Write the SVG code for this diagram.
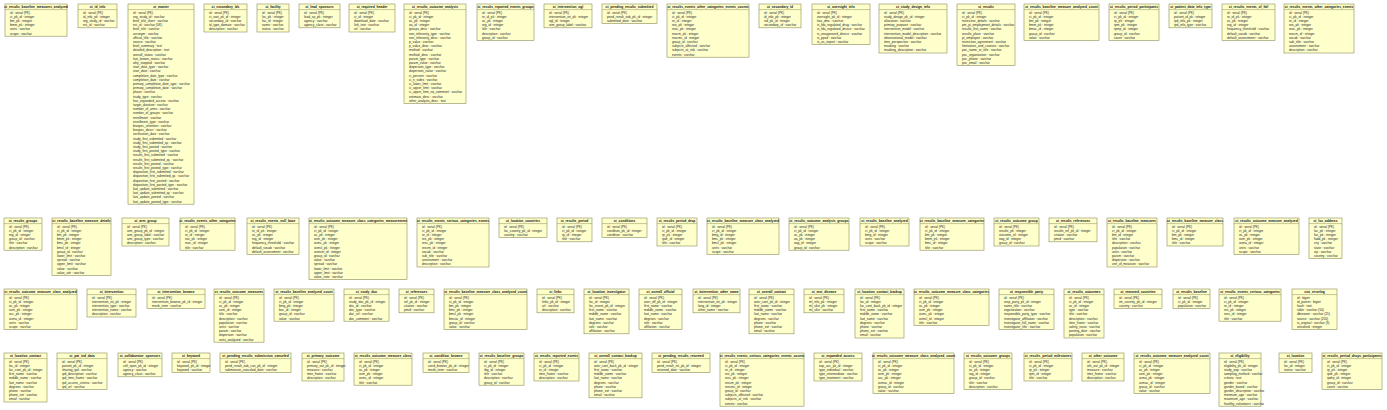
<svg xmlns="http://www.w3.org/2000/svg" width="1387" height="410" viewBox="0 0 1387 410">
<style>
.b{fill:#FFFFCC;stroke:#8C8C5A;stroke-width:0.6}
.s{stroke:#8C8C5A;stroke-width:0.5}
.h{font-family:"Liberation Sans",Arial,sans-serif;font-size:3.3px;font-weight:bold;text-anchor:middle;fill:#111}
.f{font-family:"Liberation Sans",Arial,sans-serif;font-size:3.2px;fill:#222}
</style>
<rect width="1387" height="410" fill="#FFFFFF"/>
<g id="connectors"></g>

<g id="ct_results_baseline_measures_analyzed" transform="translate(5,4)"><rect class="b" width="62" height="32.2"/><text class="h" x="31" y="4.2">ct_results_baseline_measures_analyzed</text><line class="s" x1="0" y1="5.6" x2="62" y2="5.6"/><text class="f" y="5.4"><tspan x="5" dy="4.2">id : serial (PK)</tspan><tspan x="5" dy="4.2">ct_pk_id : integer</tspan><tspan x="5" dy="4.2">bm_pk : integer</tspan><tspan x="5" dy="4.2">bmm_pk : integer</tspan><tspan x="5" dy="4.2">units : varchar</tspan><tspan x="5" dy="4.2">scope : varchar</tspan></text></g>

<g id="ct_id_info" transform="translate(78,4)"><rect class="b" width="39" height="23.8"/><text class="h" x="19.5" y="4.2">ct_id_info</text><line class="s" x1="0" y1="5.6" x2="39" y2="5.6"/><text class="f" y="5.4"><tspan x="5" dy="4.2">id : serial (PK)</tspan><tspan x="5" dy="4.2">id_info_pk : integer</tspan><tspan x="5" dy="4.2">org_study_id : varchar</tspan><tspan x="5" dy="4.2">nct_id : varchar</tspan></text></g>

<g id="ct_master" transform="translate(128,4)"><rect class="b" width="66" height="200.2"/><text class="h" x="33" y="4.2">ct_master</text><line class="s" x1="0" y1="5.6" x2="66" y2="5.6"/><text class="f" y="5.4"><tspan x="5" dy="4.2">id : serial (PK)</tspan><tspan x="5" dy="4.2">org_study_id : varchar</tspan><tspan x="5" dy="4.2">brief_title_short : varchar</tspan><tspan x="5" dy="4.2">nct_id : varchar (UK)</tspan><tspan x="5" dy="4.2">brief_title : varchar</tspan><tspan x="5" dy="4.2">acronym : varchar</tspan><tspan x="5" dy="4.2">official_title : varchar</tspan><tspan x="5" dy="4.2">source : varchar</tspan><tspan x="5" dy="4.2">brief_summary : text</tspan><tspan x="5" dy="4.2">detailed_description : text</tspan><tspan x="5" dy="4.2">overall_status : varchar</tspan><tspan x="5" dy="4.2">last_known_status : varchar</tspan><tspan x="5" dy="4.2">why_stopped : varchar</tspan><tspan x="5" dy="4.2">start_date_type : varchar</tspan><tspan x="5" dy="4.2">start_date : varchar</tspan><tspan x="5" dy="4.2">completion_date_type : varchar</tspan><tspan x="5" dy="4.2">completion_date : varchar</tspan><tspan x="5" dy="4.2">primary_completion_date_type : varchar</tspan><tspan x="5" dy="4.2">primary_completion_date : varchar</tspan><tspan x="5" dy="4.2">phase : varchar</tspan><tspan x="5" dy="4.2">study_type : varchar</tspan><tspan x="5" dy="4.2">has_expanded_access : varchar</tspan><tspan x="5" dy="4.2">target_duration : varchar</tspan><tspan x="5" dy="4.2">number_of_arms : varchar</tspan><tspan x="5" dy="4.2">number_of_groups : varchar</tspan><tspan x="5" dy="4.2">enrollment : varchar</tspan><tspan x="5" dy="4.2">enrollment_type : varchar</tspan><tspan x="5" dy="4.2">biospec_retention : varchar</tspan><tspan x="5" dy="4.2">biospec_descr : varchar</tspan><tspan x="5" dy="4.2">verification_date : varchar</tspan><tspan x="5" dy="4.2">study_first_submitted : varchar</tspan><tspan x="5" dy="4.2">study_first_submitted_qc : varchar</tspan><tspan x="5" dy="4.2">study_first_posted : varchar</tspan><tspan x="5" dy="4.2">study_first_posted_type : varchar</tspan><tspan x="5" dy="4.2">results_first_submitted : varchar</tspan><tspan x="5" dy="4.2">results_first_submitted_qc : varchar</tspan><tspan x="5" dy="4.2">results_first_posted : varchar</tspan><tspan x="5" dy="4.2">results_first_posted_type : varchar</tspan><tspan x="5" dy="4.2">disposition_first_submitted : varchar</tspan><tspan x="5" dy="4.2">disposition_first_submitted_qc : varchar</tspan><tspan x="5" dy="4.2">disposition_first_posted : varchar</tspan><tspan x="5" dy="4.2">disposition_first_posted_type : varchar</tspan><tspan x="5" dy="4.2">last_update_submitted : varchar</tspan><tspan x="5" dy="4.2">last_update_submitted_qc : varchar</tspan><tspan x="5" dy="4.2">last_update_posted : varchar</tspan><tspan x="5" dy="4.2">last_update_posted_type : varchar</tspan></text></g>

<g id="ct_secondary_ids" transform="translate(204,4)"><rect class="b" width="43" height="28"/><text class="h" x="21.5" y="4.2">ct_secondary_ids</text><line class="s" x1="0" y1="5.6" x2="43" y2="5.6"/><text class="f" y="5.4"><tspan x="5" dy="4.2">id : serial (PK)</tspan><tspan x="5" dy="4.2">ct_root_pk_id : integer</tspan><tspan x="5" dy="4.2">secondary_id : varchar</tspan><tspan x="5" dy="4.2">id_type_domain : varchar</tspan><tspan x="5" dy="4.2">description : varchar</tspan></text></g>

<g id="ct_facility" transform="translate(257,4)"><rect class="b" width="32" height="28"/><text class="h" x="16" y="4.2">ct_facility</text><line class="s" x1="0" y1="5.6" x2="32" y2="5.6"/><text class="f" y="5.4"><tspan x="5" dy="4.2">id : serial (PK)</tspan><tspan x="5" dy="4.2">loc_pk : integer</tspan><tspan x="5" dy="4.2">fac_id : integer</tspan><tspan x="5" dy="4.2">name : varchar</tspan><tspan x="5" dy="4.2">status : varchar</tspan></text></g>

<g id="ct_lead_sponsors" transform="translate(299,4)"><rect class="b" width="41" height="23.8"/><text class="h" x="20.5" y="4.2">ct_lead_sponsors</text><line class="s" x1="0" y1="5.6" x2="41" y2="5.6"/><text class="f" y="5.4"><tspan x="5" dy="4.2">id : serial (PK)</tspan><tspan x="5" dy="4.2">lead_sp_pk : integer</tspan><tspan x="5" dy="4.2">agency : varchar</tspan><tspan x="5" dy="4.2">agency_class : varchar</tspan></text></g>

<g id="ct_required_header" transform="translate(349,4)"><rect class="b" width="46" height="28"/><text class="h" x="23" y="4.2">ct_required_header</text><line class="s" x1="0" y1="5.6" x2="46" y2="5.6"/><text class="f" y="5.4"><tspan x="5" dy="4.2">id : serial (PK)</tspan><tspan x="5" dy="4.2">ct_id : integer</tspan><tspan x="5" dy="4.2">download_date : varchar</tspan><tspan x="5" dy="4.2">link_text : varchar</tspan><tspan x="5" dy="4.2">url : varchar</tspan></text></g>

<g id="ct_results_outcome_analysis" transform="translate(404,4)"><rect class="b" width="62" height="99.4"/><text class="h" x="31" y="4.2">ct_results_outcome_analysis</text><line class="s" x1="0" y1="5.6" x2="62" y2="5.6"/><text class="f" y="5.4"><tspan x="5" dy="4.2">id : serial (PK)</tspan><tspan x="5" dy="4.2">ct_pk_id : integer</tspan><tspan x="5" dy="4.2">oc_pk : integer</tspan><tspan x="5" dy="4.2">oa_id : integer</tspan><tspan x="5" dy="4.2">groups_desc : varchar</tspan><tspan x="5" dy="4.2">non_inferiority_type : varchar</tspan><tspan x="5" dy="4.2">non_inferiority_desc : varchar</tspan><tspan x="5" dy="4.2">p_value : varchar</tspan><tspan x="5" dy="4.2">p_value_desc : varchar</tspan><tspan x="5" dy="4.2">method : varchar</tspan><tspan x="5" dy="4.2">method_desc : varchar</tspan><tspan x="5" dy="4.2">param_type : varchar</tspan><tspan x="5" dy="4.2">param_value : varchar</tspan><tspan x="5" dy="4.2">dispersion_type : varchar</tspan><tspan x="5" dy="4.2">dispersion_value : varchar</tspan><tspan x="5" dy="4.2">ci_percent : varchar</tspan><tspan x="5" dy="4.2">ci_n_sides : varchar</tspan><tspan x="5" dy="4.2">ci_lower_limit : varchar</tspan><tspan x="5" dy="4.2">ci_upper_limit : varchar</tspan><tspan x="5" dy="4.2">ci_upper_limit_na_comment : varchar</tspan><tspan x="5" dy="4.2">estimate_desc : varchar</tspan><tspan x="5" dy="4.2">other_analysis_desc : text</tspan></text></g>

<g id="ct_results_reported_events_groups" transform="translate(477,4)"><rect class="b" width="57" height="36.4"/><text class="h" x="28.5" y="4.2">ct_results_reported_events_groups</text><line class="s" x1="0" y1="5.6" x2="57" y2="5.6"/><text class="f" y="5.4"><tspan x="5" dy="4.2">id : serial (PK)</tspan><tspan x="5" dy="4.2">re_id_pk : integer</tspan><tspan x="5" dy="4.2">oc_pk : integer</tspan><tspan x="5" dy="4.2">reg_id : integer</tspan><tspan x="5" dy="4.2">title : varchar</tspan><tspan x="5" dy="4.2">description : varchar</tspan><tspan x="5" dy="4.2">group_id : varchar</tspan></text></g>

<g id="ct_intervention_ogl" transform="translate(544,4)"><rect class="b" width="48" height="23.8"/><text class="h" x="24" y="4.2">ct_intervention_ogl</text><line class="s" x1="0" y1="5.6" x2="48" y2="5.6"/><text class="f" y="5.4"><tspan x="5" dy="4.2">id : serial (PK)</tspan><tspan x="5" dy="4.2">intervention_int_pk : integer</tspan><tspan x="5" dy="4.2">ogl_id : integer</tspan><tspan x="5" dy="4.2">arm_group_label : varchar</tspan></text></g>

<g id="ct_pending_results_submitted" transform="translate(602,4)"><rect class="b" width="55" height="19.6"/><text class="h" x="27.5" y="4.2">ct_pending_results_submitted</text><line class="s" x1="0" y1="5.6" x2="55" y2="5.6"/><text class="f" y="5.4"><tspan x="5" dy="4.2">id : serial (PK)</tspan><tspan x="5" dy="4.2">pend_result_sub_pk_id : integer</tspan><tspan x="5" dy="4.2">submitted_date : varchar</tspan></text></g>

<g id="ct_results_events_other_categories_events_counts" transform="translate(667,4)"><rect class="b" width="82" height="53.2"/><text class="h" x="41" y="4.2">ct_results_events_other_categories_events_counts</text><line class="s" x1="0" y1="5.6" x2="82" y2="5.6"/><text class="f" y="5.4"><tspan x="5" dy="4.2">id : serial (PK)</tspan><tspan x="5" dy="4.2">ct_pk_id : integer</tspan><tspan x="5" dy="4.2">re_id : integer</tspan><tspan x="5" dy="4.2">reo_pk : integer</tspan><tspan x="5" dy="4.2">reoc_pk : integer</tspan><tspan x="5" dy="4.2">reocm_pk : integer</tspan><tspan x="5" dy="4.2">reocmc_id : integer</tspan><tspan x="5" dy="4.2">group_id : varchar</tspan><tspan x="5" dy="4.2">subjects_affected : varchar</tspan><tspan x="5" dy="4.2">subjects_at_risk : varchar</tspan><tspan x="5" dy="4.2">events : varchar</tspan></text></g>

<g id="ct_secondary_id" transform="translate(759,4)"><rect class="b" width="42" height="23.8"/><text class="h" x="21" y="4.2">ct_secondary_id</text><line class="s" x1="0" y1="5.6" x2="42" y2="5.6"/><text class="f" y="5.4"><tspan x="5" dy="4.2">id : serial (PK)</tspan><tspan x="5" dy="4.2">id_info_pk : integer</tspan><tspan x="5" dy="4.2">sid_pk_id : integer</tspan><tspan x="5" dy="4.2">secondary_id : varchar</tspan></text></g>

<g id="ct_oversight_info" transform="translate(812,4)"><rect class="b" width="58" height="40.6"/><text class="h" x="29" y="4.2">ct_oversight_info</text><line class="s" x1="0" y1="5.6" x2="58" y2="5.6"/><text class="f" y="5.4"><tspan x="5" dy="4.2">id : serial (PK)</tspan><tspan x="5" dy="4.2">oversight_pk_id : integer</tspan><tspan x="5" dy="4.2">has_dmc : varchar</tspan><tspan x="5" dy="4.2">is_fda_regulated_drug : varchar</tspan><tspan x="5" dy="4.2">is_fda_regulated_device : varchar</tspan><tspan x="5" dy="4.2">is_unapproved_device : varchar</tspan><tspan x="5" dy="4.2">is_ppsd : varchar</tspan><tspan x="5" dy="4.2">is_us_export : varchar</tspan></text></g>

<g id="ct_study_design_info" transform="translate(879,4)"><rect class="b" width="68" height="49"/><text class="h" x="34" y="4.2">ct_study_design_info</text><line class="s" x1="0" y1="5.6" x2="68" y2="5.6"/><text class="f" y="5.4"><tspan x="5" dy="4.2">id : serial (PK)</tspan><tspan x="5" dy="4.2">study_design_pk_id : integer</tspan><tspan x="5" dy="4.2">allocation : varchar</tspan><tspan x="5" dy="4.2">primary_purpose : varchar</tspan><tspan x="5" dy="4.2">intervention_model : varchar</tspan><tspan x="5" dy="4.2">intervention_model_description : varchar</tspan><tspan x="5" dy="4.2">observational_model : varchar</tspan><tspan x="5" dy="4.2">time_perspective : varchar</tspan><tspan x="5" dy="4.2">masking : varchar</tspan><tspan x="5" dy="4.2">masking_description : varchar</tspan></text></g>

<g id="ct_results" transform="translate(957,4)"><rect class="b" width="58" height="61.6"/><text class="h" x="29" y="4.2">ct_results</text><line class="s" x1="0" y1="5.6" x2="58" y2="5.6"/><text class="f" y="5.4"><tspan x="5" dy="4.2">id : serial (PK)</tspan><tspan x="5" dy="4.2">ct_pk_id : integer</tspan><tspan x="5" dy="4.2">restrictive_details : varchar</tspan><tspan x="5" dy="4.2">pm_pi_employment_details : varchar</tspan><tspan x="5" dy="4.2">results_first_name : varchar</tspan><tspan x="5" dy="4.2">results_place : varchar</tspan><tspan x="5" dy="4.2">pi_employee : varchar</tspan><tspan x="5" dy="4.2">restriction_agreement : varchar</tspan><tspan x="5" dy="4.2">limitations_and_caveats : varchar</tspan><tspan x="5" dy="4.2">poc_name_or_title : varchar</tspan><tspan x="5" dy="4.2">poc_organization : varchar</tspan><tspan x="5" dy="4.2">poc_phone : varchar</tspan><tspan x="5" dy="4.2">poc_email : varchar</tspan></text></g>

<g id="ct_results_baseline_measure_analyzed_count" transform="translate(1024,4)"><rect class="b" width="75" height="36.4"/><text class="h" x="37.5" y="4.2">ct_results_baseline_measure_analyzed_count</text><line class="s" x1="0" y1="5.6" x2="75" y2="5.6"/><text class="f" y="5.4"><tspan x="5" dy="4.2">id : serial (PK)</tspan><tspan x="5" dy="4.2">ct_pk_id : integer</tspan><tspan x="5" dy="4.2">bm_pk : integer</tspan><tspan x="5" dy="4.2">bmm_pk : integer</tspan><tspan x="5" dy="4.2">bmac_id : integer</tspan><tspan x="5" dy="4.2">group_id : varchar</tspan><tspan x="5" dy="4.2">value : varchar</tspan></text></g>

<g id="ct_results_period_participants" transform="translate(1109,4)"><rect class="b" width="50" height="36.4"/><text class="h" x="25" y="4.2">ct_results_period_participants</text><line class="s" x1="0" y1="5.6" x2="50" y2="5.6"/><text class="f" y="5.4"><tspan x="5" dy="4.2">id : serial (PK)</tspan><tspan x="5" dy="4.2">ct_pk_id : integer</tspan><tspan x="5" dy="4.2">rp_pk : integer</tspan><tspan x="5" dy="4.2">rpm_pk : integer</tspan><tspan x="5" dy="4.2">rpmp_id : integer</tspan><tspan x="5" dy="4.2">group_id : varchar</tspan><tspan x="5" dy="4.2">count : varchar</tspan></text></g>

<g id="ct_patient_data_info_type" transform="translate(1169,4)"><rect class="b" width="43" height="23.8"/><text class="h" x="21.5" y="4.2">ct_patient_data_info_type</text><line class="s" x1="0" y1="5.6" x2="43" y2="5.6"/><text class="f" y="5.4"><tspan x="5" dy="4.2">id : serial (PK)</tspan><tspan x="5" dy="4.2">patient_id_pk : integer</tspan><tspan x="5" dy="4.2">ipd_info_pk : integer</tspan><tspan x="5" dy="4.2">ipd_info_type : varchar</tspan></text></g>

<g id="ct_results_events_of_fail" transform="translate(1222,4)"><rect class="b" width="53" height="36.4"/><text class="h" x="26.5" y="4.2">ct_results_events_of_fail</text><line class="s" x1="0" y1="5.6" x2="53" y2="5.6"/><text class="f" y="5.4"><tspan x="5" dy="4.2">id : serial (PK)</tspan><tspan x="5" dy="4.2">re_id_pk : integer</tspan><tspan x="5" dy="4.2">oc_pk : integer</tspan><tspan x="5" dy="4.2">reg_id : integer</tspan><tspan x="5" dy="4.2">frequency_threshold : varchar</tspan><tspan x="5" dy="4.2">default_vocab : varchar</tspan><tspan x="5" dy="4.2">default_assessment : varchar</tspan></text></g>

<g id="ct_results_events_other_categories_events" transform="translate(1284,4)"><rect class="b" width="70" height="49"/><text class="h" x="35" y="4.2">ct_results_events_other_categories_events</text><line class="s" x1="0" y1="5.6" x2="70" y2="5.6"/><text class="f" y="5.4"><tspan x="5" dy="4.2">id : serial (PK)</tspan><tspan x="5" dy="4.2">ct_pk_id : integer</tspan><tspan x="5" dy="4.2">re_id : integer</tspan><tspan x="5" dy="4.2">reo_pk : integer</tspan><tspan x="5" dy="4.2">reoc_pk : integer</tspan><tspan x="5" dy="4.2">reocm_id : integer</tspan><tspan x="5" dy="4.2">vocab : varchar</tspan><tspan x="5" dy="4.2">sub_title : varchar</tspan><tspan x="5" dy="4.2">assessment : varchar</tspan><tspan x="5" dy="4.2">description : varchar</tspan></text></g>

<g id="ct_results_groups" transform="translate(4,218)"><rect class="b" width="38" height="32.2"/><text class="h" x="19" y="4.2">ct_results_groups</text><line class="s" x1="0" y1="5.6" x2="38" y2="5.6"/><text class="f" y="5.4"><tspan x="5" dy="4.2">id : serial (PK)</tspan><tspan x="5" dy="4.2">ct_pk_id : integer</tspan><tspan x="5" dy="4.2">reg_id : integer</tspan><tspan x="5" dy="4.2">group_id : varchar</tspan><tspan x="5" dy="4.2">title : varchar</tspan><tspan x="5" dy="4.2">description : varchar</tspan></text></g>

<g id="ct_results_baseline_measure_details" transform="translate(52,218)"><rect class="b" width="59" height="57.4"/><text class="h" x="29.5" y="4.2">ct_results_baseline_measure_details</text><line class="s" x1="0" y1="5.6" x2="59" y2="5.6"/><text class="f" y="5.4"><tspan x="5" dy="4.2">id : serial (PK)</tspan><tspan x="5" dy="4.2">ct_pk_id : integer</tspan><tspan x="5" dy="4.2">bm_pk : integer</tspan><tspan x="5" dy="4.2">bmm_pk : integer</tspan><tspan x="5" dy="4.2">bmc_pk : integer</tspan><tspan x="5" dy="4.2">bmcl_id : integer</tspan><tspan x="5" dy="4.2">group_id : varchar</tspan><tspan x="5" dy="4.2">lower_limit : varchar</tspan><tspan x="5" dy="4.2">spread : varchar</tspan><tspan x="5" dy="4.2">upper_limit : varchar</tspan><tspan x="5" dy="4.2">value : varchar</tspan><tspan x="5" dy="4.2">value_attr : varchar</tspan></text></g>

<g id="ct_arm_group" transform="translate(122,218)"><rect class="b" width="47" height="28"/><text class="h" x="23.5" y="4.2">ct_arm_group</text><line class="s" x1="0" y1="5.6" x2="47" y2="5.6"/><text class="f" y="5.4"><tspan x="5" dy="4.2">id : serial (PK)</tspan><tspan x="5" dy="4.2">arm_group_pk_id : integer</tspan><tspan x="5" dy="4.2">arm_group_label : varchar</tspan><tspan x="5" dy="4.2">arm_group_type : varchar</tspan><tspan x="5" dy="4.2">description : varchar</tspan></text></g>

<g id="ct_results_events_other_categories" transform="translate(180,218)"><rect class="b" width="55" height="32.2"/><text class="h" x="27.5" y="4.2">ct_results_events_other_categories</text><line class="s" x1="0" y1="5.6" x2="55" y2="5.6"/><text class="f" y="5.4"><tspan x="5" dy="4.2">id : serial (PK)</tspan><tspan x="5" dy="4.2">ct_pk_id : integer</tspan><tspan x="5" dy="4.2">re_id : integer</tspan><tspan x="5" dy="4.2">reo_pk : integer</tspan><tspan x="5" dy="4.2">reoc_id : integer</tspan><tspan x="5" dy="4.2">title : varchar</tspan></text></g>

<g id="ct_results_events_null_base" transform="translate(247,218)"><rect class="b" width="52" height="36.4"/><text class="h" x="26" y="4.2">ct_results_events_null_base</text><line class="s" x1="0" y1="5.6" x2="52" y2="5.6"/><text class="f" y="5.4"><tspan x="5" dy="4.2">id : serial (PK)</tspan><tspan x="5" dy="4.2">re_id_pk : integer</tspan><tspan x="5" dy="4.2">oc_pk : integer</tspan><tspan x="5" dy="4.2">reg_id : integer</tspan><tspan x="5" dy="4.2">frequency_threshold : varchar</tspan><tspan x="5" dy="4.2">default_vocab : varchar</tspan><tspan x="5" dy="4.2">default_assessment : varchar</tspan></text></g>

<g id="ct_results_outcome_measure_class_categories_measurement" transform="translate(309,218)"><rect class="b" width="98" height="61.6"/><text class="h" x="49" y="4.2">ct_results_outcome_measure_class_categories_measurement</text><line class="s" x1="0" y1="5.6" x2="98" y2="5.6"/><text class="f" y="5.4"><tspan x="5" dy="4.2">id : serial (PK)</tspan><tspan x="5" dy="4.2">ct_pk_id : integer</tspan><tspan x="5" dy="4.2">oc_pk : integer</tspan><tspan x="5" dy="4.2">ocm_pk : integer</tspan><tspan x="5" dy="4.2">ocmc_pk : integer</tspan><tspan x="5" dy="4.2">ocmcl_pk : integer</tspan><tspan x="5" dy="4.2">ocmcm_id : integer</tspan><tspan x="5" dy="4.2">group_id : varchar</tspan><tspan x="5" dy="4.2">value : varchar</tspan><tspan x="5" dy="4.2">spread : varchar</tspan><tspan x="5" dy="4.2">lower_limit : varchar</tspan><tspan x="5" dy="4.2">upper_limit : varchar</tspan><tspan x="5" dy="4.2">value_note : varchar</tspan></text></g>

<g id="ct_results_events_serious_categories_events" transform="translate(417,218)"><rect class="b" width="72" height="49"/><text class="h" x="36" y="4.2">ct_results_events_serious_categories_events</text><line class="s" x1="0" y1="5.6" x2="72" y2="5.6"/><text class="f" y="5.4"><tspan x="5" dy="4.2">id : serial (PK)</tspan><tspan x="5" dy="4.2">ct_pk_id : integer</tspan><tspan x="5" dy="4.2">re_id : integer</tspan><tspan x="5" dy="4.2">res_pk : integer</tspan><tspan x="5" dy="4.2">resc_pk : integer</tspan><tspan x="5" dy="4.2">rescm_id : integer</tspan><tspan x="5" dy="4.2">vocab : varchar</tspan><tspan x="5" dy="4.2">sub_title : varchar</tspan><tspan x="5" dy="4.2">assessment : varchar</tspan><tspan x="5" dy="4.2">description : varchar</tspan></text></g>

<g id="ct_location_countries" transform="translate(499,218)"><rect class="b" width="48" height="19.6"/><text class="h" x="24" y="4.2">ct_location_countries</text><line class="s" x1="0" y1="5.6" x2="48" y2="5.6"/><text class="f" y="5.4"><tspan x="5" dy="4.2">id : serial (PK)</tspan><tspan x="5" dy="4.2">loc_country_pk_id : integer</tspan><tspan x="5" dy="4.2">country : varchar</tspan></text></g>

<g id="ct_results_period" transform="translate(557,218)"><rect class="b" width="35" height="23.8"/><text class="h" x="17.5" y="4.2">ct_results_period</text><line class="s" x1="0" y1="5.6" x2="35" y2="5.6"/><text class="f" y="5.4"><tspan x="5" dy="4.2">id : serial (PK)</tspan><tspan x="5" dy="4.2">ct_pk_id : integer</tspan><tspan x="5" dy="4.2">rp_id : integer</tspan><tspan x="5" dy="4.2">title : varchar</tspan></text></g>

<g id="ct_conditions" transform="translate(602,218)"><rect class="b" width="45" height="19.6"/><text class="h" x="22.5" y="4.2">ct_conditions</text><line class="s" x1="0" y1="5.6" x2="45" y2="5.6"/><text class="f" y="5.4"><tspan x="5" dy="4.2">id : serial (PK)</tspan><tspan x="5" dy="4.2">condition_pk_id : integer</tspan><tspan x="5" dy="4.2">condition : varchar</tspan></text></g>

<g id="ct_results_period_drop" transform="translate(657,218)"><rect class="b" width="40" height="28"/><text class="h" x="20" y="4.2">ct_results_period_drop</text><line class="s" x1="0" y1="5.6" x2="40" y2="5.6"/><text class="f" y="5.4"><tspan x="5" dy="4.2">id : serial (PK)</tspan><tspan x="5" dy="4.2">ct_pk_id : integer</tspan><tspan x="5" dy="4.2">rp_pk : integer</tspan><tspan x="5" dy="4.2">rpdr_id : integer</tspan><tspan x="5" dy="4.2">title : varchar</tspan></text></g>

<g id="ct_results_baseline_measure_class_analyzed" transform="translate(707,218)"><rect class="b" width="72" height="36.4"/><text class="h" x="36" y="4.2">ct_results_baseline_measure_class_analyzed</text><line class="s" x1="0" y1="5.6" x2="72" y2="5.6"/><text class="f" y="5.4"><tspan x="5" dy="4.2">id : serial (PK)</tspan><tspan x="5" dy="4.2">ct_pk_id : integer</tspan><tspan x="5" dy="4.2">bmg_id : integer</tspan><tspan x="5" dy="4.2">bmc_pk : integer</tspan><tspan x="5" dy="4.2">bmcl_pk : integer</tspan><tspan x="5" dy="4.2">units : varchar</tspan><tspan x="5" dy="4.2">scope : varchar</tspan></text></g>

<g id="ct_results_outcome_analysis_groups" transform="translate(789,218)"><rect class="b" width="60" height="32.2"/><text class="h" x="30" y="4.2">ct_results_outcome_analysis_groups</text><line class="s" x1="0" y1="5.6" x2="60" y2="5.6"/><text class="f" y="5.4"><tspan x="5" dy="4.2">id : serial (PK)</tspan><tspan x="5" dy="4.2">ct_pk_id : integer</tspan><tspan x="5" dy="4.2">oc_pk : integer</tspan><tspan x="5" dy="4.2">oa_pk : integer</tspan><tspan x="5" dy="4.2">oag_id : integer</tspan><tspan x="5" dy="4.2">group_id : varchar</tspan></text></g>

<g id="ct_results_baseline_analyzed" transform="translate(860,218)"><rect class="b" width="49" height="28"/><text class="h" x="24.5" y="4.2">ct_results_baseline_analyzed</text><line class="s" x1="0" y1="5.6" x2="49" y2="5.6"/><text class="f" y="5.4"><tspan x="5" dy="4.2">id : serial (PK)</tspan><tspan x="5" dy="4.2">ct_pk_id : integer</tspan><tspan x="5" dy="4.2">bmg_id : integer</tspan><tspan x="5" dy="4.2">units : varchar</tspan><tspan x="5" dy="4.2">scope : varchar</tspan></text></g>

<g id="ct_results_baseline_measure_categories" transform="translate(920,218)"><rect class="b" width="64" height="32.2"/><text class="h" x="32" y="4.2">ct_results_baseline_measure_categories</text><line class="s" x1="0" y1="5.6" x2="64" y2="5.6"/><text class="f" y="5.4"><tspan x="5" dy="4.2">id : serial (PK)</tspan><tspan x="5" dy="4.2">ct_pk_id : integer</tspan><tspan x="5" dy="4.2">bm_pk : integer</tspan><tspan x="5" dy="4.2">bmm_pk : integer</tspan><tspan x="5" dy="4.2">bmc_id : integer</tspan><tspan x="5" dy="4.2">title : varchar</tspan></text></g>

<g id="ct_results_outcome_group" transform="translate(994,218)"><rect class="b" width="45" height="28"/><text class="h" x="22.5" y="4.2">ct_results_outcome_group</text><line class="s" x1="0" y1="5.6" x2="45" y2="5.6"/><text class="f" y="5.4"><tspan x="5" dy="4.2">id : serial (PK)</tspan><tspan x="5" dy="4.2">results_pk : integer</tspan><tspan x="5" dy="4.2">outcome_id : integer</tspan><tspan x="5" dy="4.2">oog_id : integer</tspan><tspan x="5" dy="4.2">group_id : varchar</tspan></text></g>

<g id="ct_results_references" transform="translate(1049,218)"><rect class="b" width="48" height="23.8"/><text class="h" x="24" y="4.2">ct_results_references</text><line class="s" x1="0" y1="5.6" x2="48" y2="5.6"/><text class="f" y="5.4"><tspan x="5" dy="4.2">id : serial (PK)</tspan><tspan x="5" dy="4.2">results_ref_pk_id : integer</tspan><tspan x="5" dy="4.2">citation : varchar</tspan><tspan x="5" dy="4.2">pmid : varchar</tspan></text></g>

<g id="ct_results_baseline_measures" transform="translate(1107,218)"><rect class="b" width="50" height="49"/><text class="h" x="25" y="4.2">ct_results_baseline_measures</text><line class="s" x1="0" y1="5.6" x2="50" y2="5.6"/><text class="f" y="5.4"><tspan x="5" dy="4.2">id : serial (PK)</tspan><tspan x="5" dy="4.2">ct_pk_id : integer</tspan><tspan x="5" dy="4.2">bm_id : integer</tspan><tspan x="5" dy="4.2">title : varchar</tspan><tspan x="5" dy="4.2">description : varchar</tspan><tspan x="5" dy="4.2">population : varchar</tspan><tspan x="5" dy="4.2">units : varchar</tspan><tspan x="5" dy="4.2">param : varchar</tspan><tspan x="5" dy="4.2">dispersion : varchar</tspan><tspan x="5" dy="4.2">unit_of_measure : varchar</tspan></text></g>

<g id="ct_results_baseline_measure_class" transform="translate(1167,218)"><rect class="b" width="56" height="28"/><text class="h" x="28" y="4.2">ct_results_baseline_measure_class</text><line class="s" x1="0" y1="5.6" x2="56" y2="5.6"/><text class="f" y="5.4"><tspan x="5" dy="4.2">id : serial (PK)</tspan><tspan x="5" dy="4.2">ct_pk_id : integer</tspan><tspan x="5" dy="4.2">bm_pk : integer</tspan><tspan x="5" dy="4.2">bmc_id : integer</tspan><tspan x="5" dy="4.2">title : varchar</tspan></text></g>

<g id="ct_results_outcome_measure_analyzed" transform="translate(1234,218)"><rect class="b" width="65" height="36.4"/><text class="h" x="32.5" y="4.2">ct_results_outcome_measure_analyzed</text><line class="s" x1="0" y1="5.6" x2="65" y2="5.6"/><text class="f" y="5.4"><tspan x="5" dy="4.2">id : serial (PK)</tspan><tspan x="5" dy="4.2">ct_pk_id : integer</tspan><tspan x="5" dy="4.2">oc_pk : integer</tspan><tspan x="5" dy="4.2">ocm_pk : integer</tspan><tspan x="5" dy="4.2">ocma_id : integer</tspan><tspan x="5" dy="4.2">units : varchar</tspan><tspan x="5" dy="4.2">scope : varchar</tspan></text></g>

<g id="ct_loc_address" transform="translate(1309,218)"><rect class="b" width="33" height="40.6"/><text class="h" x="16.5" y="4.2">ct_loc_address</text><line class="s" x1="0" y1="5.6" x2="33" y2="5.6"/><text class="f" y="5.4"><tspan x="5" dy="4.2">id : serial (PK)</tspan><tspan x="5" dy="4.2">loc_pk : integer</tspan><tspan x="5" dy="4.2">fac_pk : integer</tspan><tspan x="5" dy="4.2">fadd_pk : integer</tspan><tspan x="5" dy="4.2">city : varchar</tspan><tspan x="5" dy="4.2">state : varchar</tspan><tspan x="5" dy="4.2">zip : varchar</tspan><tspan x="5" dy="4.2">country : varchar</tspan></text></g>

<g id="ct_results_outcome_measure_class_analyzed" transform="translate(4,289)"><rect class="b" width="73" height="40.6"/><text class="h" x="36.5" y="4.2">ct_results_outcome_measure_class_analyzed</text><line class="s" x1="0" y1="5.6" x2="73" y2="5.6"/><text class="f" y="5.4"><tspan x="5" dy="4.2">id : serial (PK)</tspan><tspan x="5" dy="4.2">ct_pk_id : integer</tspan><tspan x="5" dy="4.2">oc_pk : integer</tspan><tspan x="5" dy="4.2">ocm_pk : integer</tspan><tspan x="5" dy="4.2">occ_pk : integer</tspan><tspan x="5" dy="4.2">ocma_id : integer</tspan><tspan x="5" dy="4.2">units : varchar</tspan><tspan x="5" dy="4.2">scope : varchar</tspan></text></g>

<g id="ct_intervention" transform="translate(87,289)"><rect class="b" width="49" height="28"/><text class="h" x="24.5" y="4.2">ct_intervention</text><line class="s" x1="0" y1="5.6" x2="49" y2="5.6"/><text class="f" y="5.4"><tspan x="5" dy="4.2">id : serial (PK)</tspan><tspan x="5" dy="4.2">intervention_int_pk : integer</tspan><tspan x="5" dy="4.2">intervention_type : varchar</tspan><tspan x="5" dy="4.2">intervention_name : varchar</tspan><tspan x="5" dy="4.2">description : varchar</tspan></text></g>

<g id="ct_intervention_browse" transform="translate(147,289)"><rect class="b" width="58" height="19.6"/><text class="h" x="29" y="4.2">ct_intervention_browse</text><line class="s" x1="0" y1="5.6" x2="58" y2="5.6"/><text class="f" y="5.4"><tspan x="5" dy="4.2">id : serial (PK)</tspan><tspan x="5" dy="4.2">intervention_browse_pk_id : integer</tspan><tspan x="5" dy="4.2">mesh_term : varchar</tspan></text></g>

<g id="ct_results_outcome_measures" transform="translate(214,289)"><rect class="b" width="50" height="53.2"/><text class="h" x="25" y="4.2">ct_results_outcome_measures</text><line class="s" x1="0" y1="5.6" x2="50" y2="5.6"/><text class="f" y="5.4"><tspan x="5" dy="4.2">id : serial (PK)</tspan><tspan x="5" dy="4.2">ct_pk_id : integer</tspan><tspan x="5" dy="4.2">oc_pk : integer</tspan><tspan x="5" dy="4.2">ocm_id : integer</tspan><tspan x="5" dy="4.2">title : varchar</tspan><tspan x="5" dy="4.2">description : varchar</tspan><tspan x="5" dy="4.2">population : varchar</tspan><tspan x="5" dy="4.2">units : varchar</tspan><tspan x="5" dy="4.2">param : varchar</tspan><tspan x="5" dy="4.2">dispersion : varchar</tspan><tspan x="5" dy="4.2">units_analyzed : varchar</tspan></text></g>

<g id="ct_results_baseline_analyzed_count" transform="translate(274,289)"><rect class="b" width="60" height="32.2"/><text class="h" x="30" y="4.2">ct_results_baseline_analyzed_count</text><line class="s" x1="0" y1="5.6" x2="60" y2="5.6"/><text class="f" y="5.4"><tspan x="5" dy="4.2">id : serial (PK)</tspan><tspan x="5" dy="4.2">ct_pk_id : integer</tspan><tspan x="5" dy="4.2">bmg_pk : integer</tspan><tspan x="5" dy="4.2">bac_id : integer</tspan><tspan x="5" dy="4.2">group_id : varchar</tspan><tspan x="5" dy="4.2">value : varchar</tspan></text></g>

<g id="ct_study_doc" transform="translate(344,289)"><rect class="b" width="45" height="32.2"/><text class="h" x="22.5" y="4.2">ct_study_doc</text><line class="s" x1="0" y1="5.6" x2="45" y2="5.6"/><text class="f" y="5.4"><tspan x="5" dy="4.2">id : serial (PK)</tspan><tspan x="5" dy="4.2">study_doc_pk_id : integer</tspan><tspan x="5" dy="4.2">doc_id : varchar</tspan><tspan x="5" dy="4.2">doc_type : varchar</tspan><tspan x="5" dy="4.2">doc_url : varchar</tspan><tspan x="5" dy="4.2">doc_comment : varchar</tspan></text></g>

<g id="ct_references" transform="translate(399,289)"><rect class="b" width="35" height="23.8"/><text class="h" x="17.5" y="4.2">ct_references</text><line class="s" x1="0" y1="5.6" x2="35" y2="5.6"/><text class="f" y="5.4"><tspan x="5" dy="4.2">id : serial (PK)</tspan><tspan x="5" dy="4.2">ref_pk_id : integer</tspan><tspan x="5" dy="4.2">citation : varchar</tspan><tspan x="5" dy="4.2">pmid : varchar</tspan></text></g>

<g id="ct_results_baseline_measure_class_analyzed_count" transform="translate(444,289)"><rect class="b" width="83" height="40.6"/><text class="h" x="41.5" y="4.2">ct_results_baseline_measure_class_analyzed_count</text><line class="s" x1="0" y1="5.6" x2="83" y2="5.6"/><text class="f" y="5.4"><tspan x="5" dy="4.2">id : serial (PK)</tspan><tspan x="5" dy="4.2">ct_pk_id : integer</tspan><tspan x="5" dy="4.2">bm_pk : integer</tspan><tspan x="5" dy="4.2">bmc_pk : integer</tspan><tspan x="5" dy="4.2">bmcl_pk : integer</tspan><tspan x="5" dy="4.2">bmcac_id : integer</tspan><tspan x="5" dy="4.2">group_id : varchar</tspan><tspan x="5" dy="4.2">value : varchar</tspan></text></g>

<g id="ct_links" transform="translate(537,289)"><rect class="b" width="37" height="23.8"/><text class="h" x="18.5" y="4.2">ct_links</text><line class="s" x1="0" y1="5.6" x2="37" y2="5.6"/><text class="f" y="5.4"><tspan x="5" dy="4.2">id : serial (PK)</tspan><tspan x="5" dy="4.2">links_pk_id : integer</tspan><tspan x="5" dy="4.2">url : varchar</tspan><tspan x="5" dy="4.2">description : varchar</tspan></text></g>

<g id="ct_location_investigator" transform="translate(584,289)"><rect class="b" width="45" height="44.8"/><text class="h" x="22.5" y="4.2">ct_location_investigator</text><line class="s" x1="0" y1="5.6" x2="45" y2="5.6"/><text class="f" y="5.4"><tspan x="5" dy="4.2">id : serial (PK)</tspan><tspan x="5" dy="4.2">loc_id : integer</tspan><tspan x="5" dy="4.2">loc_invest_pk_id : integer</tspan><tspan x="5" dy="4.2">first_name : varchar</tspan><tspan x="5" dy="4.2">middle_name : varchar</tspan><tspan x="5" dy="4.2">last_name : varchar</tspan><tspan x="5" dy="4.2">degrees : varchar</tspan><tspan x="5" dy="4.2">role : varchar</tspan><tspan x="5" dy="4.2">affiliation : varchar</tspan></text></g>

<g id="ct_overall_official" transform="translate(639,289)"><rect class="b" width="43" height="40.6"/><text class="h" x="21.5" y="4.2">ct_overall_official</text><line class="s" x1="0" y1="5.6" x2="43" y2="5.6"/><text class="f" y="5.4"><tspan x="5" dy="4.2">id : serial (PK)</tspan><tspan x="5" dy="4.2">over_off_pk_id : integer</tspan><tspan x="5" dy="4.2">first_name : varchar</tspan><tspan x="5" dy="4.2">middle_name : varchar</tspan><tspan x="5" dy="4.2">last_name : varchar</tspan><tspan x="5" dy="4.2">degrees : varchar</tspan><tspan x="5" dy="4.2">role : varchar</tspan><tspan x="5" dy="4.2">affiliation : varchar</tspan></text></g>

<g id="ct_intervention_other_name" transform="translate(693,289)"><rect class="b" width="47" height="23.8"/><text class="h" x="23.5" y="4.2">ct_intervention_other_name</text><line class="s" x1="0" y1="5.6" x2="47" y2="5.6"/><text class="f" y="5.4"><tspan x="5" dy="4.2">id : serial (PK)</tspan><tspan x="5" dy="4.2">intervention_int_pk : integer</tspan><tspan x="5" dy="4.2">long_id : integer</tspan><tspan x="5" dy="4.2">other_name : varchar</tspan></text></g>

<g id="ct_overall_contact" transform="translate(749,289)"><rect class="b" width="45" height="44.8"/><text class="h" x="22.5" y="4.2">ct_overall_contact</text><line class="s" x1="0" y1="5.6" x2="45" y2="5.6"/><text class="f" y="5.4"><tspan x="5" dy="4.2">id : serial (PK)</tspan><tspan x="5" dy="4.2">over_cont_pk_id : integer</tspan><tspan x="5" dy="4.2">first_name : varchar</tspan><tspan x="5" dy="4.2">middle_name : varchar</tspan><tspan x="5" dy="4.2">last_name : varchar</tspan><tspan x="5" dy="4.2">degrees : varchar</tspan><tspan x="5" dy="4.2">phone : varchar</tspan><tspan x="5" dy="4.2">phone_ext : varchar</tspan><tspan x="5" dy="4.2">email : varchar</tspan></text></g>

<g id="ct_mst_disease" transform="translate(804,289)"><rect class="b" width="40" height="23.8"/><text class="h" x="20" y="4.2">ct_mst_disease</text><line class="s" x1="0" y1="5.6" x2="40" y2="5.6"/><text class="f" y="5.4"><tspan x="5" dy="4.2">id : serial (PK)</tspan><tspan x="5" dy="4.2">ml_info_pk : integer</tspan><tspan x="5" dy="4.2">ml_ulist_pk : integer</tspan><tspan x="5" dy="4.2">ml_ulist : varchar</tspan></text></g>

<g id="ct_location_contact_backup" transform="translate(855,289)"><rect class="b" width="49" height="49"/><text class="h" x="24.5" y="4.2">ct_location_contact_backup</text><line class="s" x1="0" y1="5.6" x2="49" y2="5.6"/><text class="f" y="5.4"><tspan x="5" dy="4.2">id : serial (PK)</tspan><tspan x="5" dy="4.2">loc_id : integer</tspan><tspan x="5" dy="4.2">loc_cont_back_pk_id : integer</tspan><tspan x="5" dy="4.2">first_name : varchar</tspan><tspan x="5" dy="4.2">middle_name : varchar</tspan><tspan x="5" dy="4.2">last_name : varchar</tspan><tspan x="5" dy="4.2">degrees : varchar</tspan><tspan x="5" dy="4.2">phone : varchar</tspan><tspan x="5" dy="4.2">phone_ext : varchar</tspan><tspan x="5" dy="4.2">email : varchar</tspan></text></g>

<g id="ct_results_outcome_measure_class_categories" transform="translate(914,289)"><rect class="b" width="75" height="36.4"/><text class="h" x="37.5" y="4.2">ct_results_outcome_measure_class_categories</text><line class="s" x1="0" y1="5.6" x2="75" y2="5.6"/><text class="f" y="5.4"><tspan x="5" dy="4.2">id : serial (PK)</tspan><tspan x="5" dy="4.2">ct_pk_id : integer</tspan><tspan x="5" dy="4.2">oc_pk : integer</tspan><tspan x="5" dy="4.2">ocm_pk : integer</tspan><tspan x="5" dy="4.2">ocmc_pk : integer</tspan><tspan x="5" dy="4.2">ocmcl_id : integer</tspan><tspan x="5" dy="4.2">title : varchar</tspan></text></g>

<g id="ct_responsible_party" transform="translate(999,289)"><rect class="b" width="55" height="40.6"/><text class="h" x="27.5" y="4.2">ct_responsible_party</text><line class="s" x1="0" y1="5.6" x2="55" y2="5.6"/><text class="f" y="5.4"><tspan x="5" dy="4.2">id : serial (PK)</tspan><tspan x="5" dy="4.2">resp_party_pk_id : integer</tspan><tspan x="5" dy="4.2">name_title : varchar</tspan><tspan x="5" dy="4.2">organization : varchar</tspan><tspan x="5" dy="4.2">responsible_party_type : varchar</tspan><tspan x="5" dy="4.2">investigator_affiliation : varchar</tspan><tspan x="5" dy="4.2">investigator_full_name : varchar</tspan><tspan x="5" dy="4.2">investigator_title : varchar</tspan></text></g>

<g id="ct_results_outcomes" transform="translate(1064,289)"><rect class="b" width="40" height="49"/><text class="h" x="20" y="4.2">ct_results_outcomes</text><line class="s" x1="0" y1="5.6" x2="40" y2="5.6"/><text class="f" y="5.4"><tspan x="5" dy="4.2">id : serial (PK)</tspan><tspan x="5" dy="4.2">ct_pk_id : integer</tspan><tspan x="5" dy="4.2">oc_id : integer</tspan><tspan x="5" dy="4.2">type : varchar</tspan><tspan x="5" dy="4.2">title : varchar</tspan><tspan x="5" dy="4.2">description : varchar</tspan><tspan x="5" dy="4.2">time_frame : varchar</tspan><tspan x="5" dy="4.2">safety_issue : varchar</tspan><tspan x="5" dy="4.2">posting_date : varchar</tspan><tspan x="5" dy="4.2">population : varchar</tspan></text></g>

<g id="ct_removed_countries" transform="translate(1114,289)"><rect class="b" width="48" height="19.6"/><text class="h" x="24" y="4.2">ct_removed_countries</text><line class="s" x1="0" y1="5.6" x2="48" y2="5.6"/><text class="f" y="5.4"><tspan x="5" dy="4.2">id : serial (PK)</tspan><tspan x="5" dy="4.2">rm_country_pk_id : integer</tspan><tspan x="5" dy="4.2">country : varchar</tspan></text></g>

<g id="ct_results_baseline" transform="translate(1173,289)"><rect class="b" width="37" height="19.6"/><text class="h" x="18.5" y="4.2">ct_results_baseline</text><line class="s" x1="0" y1="5.6" x2="37" y2="5.6"/><text class="f" y="5.4"><tspan x="5" dy="4.2">id : serial (PK)</tspan><tspan x="5" dy="4.2">ct_pk_id : integer</tspan><tspan x="5" dy="4.2">population : varchar</tspan></text></g>

<g id="ct_results_events_serious_categories" transform="translate(1219,289)"><rect class="b" width="62" height="32.2"/><text class="h" x="31" y="4.2">ct_results_events_serious_categories</text><line class="s" x1="0" y1="5.6" x2="62" y2="5.6"/><text class="f" y="5.4"><tspan x="5" dy="4.2">id : serial (PK)</tspan><tspan x="5" dy="4.2">ct_pk_id : integer</tspan><tspan x="5" dy="4.2">re_id : integer</tspan><tspan x="5" dy="4.2">res_pk : integer</tspan><tspan x="5" dy="4.2">resc_id : integer</tspan><tspan x="5" dy="4.2">title : varchar</tspan></text></g>

<g id="ctct_errorlog" transform="translate(1292,289)"><rect class="b" width="45" height="40.6"/><text class="h" x="22.5" y="4.2">ctct_errorlog</text><line class="s" x1="0" y1="5.6" x2="45" y2="5.6"/><text class="f" y="5.4"><tspan x="5" dy="4.2">id : bigint</tspan><tspan x="5" dy="4.2">id_parent : bigint</tspan><tspan x="5" dy="4.2">hash : text</tspan><tspan x="5" dy="4.2">table : varchar (50)</tspan><tspan x="5" dy="4.2">dbrowser : varchar (25)</tspan><tspan x="5" dy="4.2">source : varchar (250)</tspan><tspan x="5" dy="4.2">is_original : varchar (3)</tspan><tspan x="5" dy="4.2">unsolved : integer</tspan></text></g>

<g id="ct_location_contact" transform="translate(4,353)"><rect class="b" width="43" height="49"/><text class="h" x="21.5" y="4.2">ct_location_contact</text><line class="s" x1="0" y1="5.6" x2="43" y2="5.6"/><text class="f" y="5.4"><tspan x="5" dy="4.2">id : serial (PK)</tspan><tspan x="5" dy="4.2">loc_id : integer</tspan><tspan x="5" dy="4.2">loc_cont_pk_id : integer</tspan><tspan x="5" dy="4.2">first_name : varchar</tspan><tspan x="5" dy="4.2">middle_name : varchar</tspan><tspan x="5" dy="4.2">last_name : varchar</tspan><tspan x="5" dy="4.2">degrees : varchar</tspan><tspan x="5" dy="4.2">phone : varchar</tspan><tspan x="5" dy="4.2">phone_ext : varchar</tspan><tspan x="5" dy="4.2">email : varchar</tspan></text></g>

<g id="ct_pat_ind_data" transform="translate(57,353)"><rect class="b" width="50" height="36.4"/><text class="h" x="25" y="4.2">ct_pat_ind_data</text><line class="s" x1="0" y1="5.6" x2="50" y2="5.6"/><text class="f" y="5.4"><tspan x="5" dy="4.2">id : serial (PK)</tspan><tspan x="5" dy="4.2">patient_pk_id : integer</tspan><tspan x="5" dy="4.2">sharing_ipd : varchar</tspan><tspan x="5" dy="4.2">ipd_description : varchar</tspan><tspan x="5" dy="4.2">ipd_time_frame : varchar</tspan><tspan x="5" dy="4.2">ipd_access_criteria : varchar</tspan><tspan x="5" dy="4.2">ipd_url : varchar</tspan></text></g>

<g id="ct_collaborator_sponsors" transform="translate(118,353)"><rect class="b" width="44" height="23.8"/><text class="h" x="22" y="4.2">ct_collaborator_sponsors</text><line class="s" x1="0" y1="5.6" x2="44" y2="5.6"/><text class="f" y="5.4"><tspan x="5" dy="4.2">id : serial (PK)</tspan><tspan x="5" dy="4.2">coll_spon_pk_id : integer</tspan><tspan x="5" dy="4.2">agency : varchar</tspan><tspan x="5" dy="4.2">agency_class : varchar</tspan></text></g>

<g id="ct_keyword" transform="translate(172,353)"><rect class="b" width="38" height="19.6"/><text class="h" x="19" y="4.2">ct_keyword</text><line class="s" x1="0" y1="5.6" x2="38" y2="5.6"/><text class="f" y="5.4"><tspan x="5" dy="4.2">id : serial (PK)</tspan><tspan x="5" dy="4.2">keyword_pk_id : integer</tspan><tspan x="5" dy="4.2">keyword : varchar</tspan></text></g>

<g id="ct_pending_results_submission_canceled" transform="translate(220,353)"><rect class="b" width="71" height="19.6"/><text class="h" x="35.5" y="4.2">ct_pending_results_submission_canceled</text><line class="s" x1="0" y1="5.6" x2="71" y2="5.6"/><text class="f" y="5.4"><tspan x="5" dy="4.2">id : serial (PK)</tspan><tspan x="5" dy="4.2">pend_result_sub_can_pk_id : integer</tspan><tspan x="5" dy="4.2">submission_canceled_date : varchar</tspan></text></g>

<g id="ct_primary_outcome" transform="translate(302,353)"><rect class="b" width="42" height="28"/><text class="h" x="21" y="4.2">ct_primary_outcome</text><line class="s" x1="0" y1="5.6" x2="42" y2="5.6"/><text class="f" y="5.4"><tspan x="5" dy="4.2">id : serial (PK)</tspan><tspan x="5" dy="4.2">primary_out_pk_id : integer</tspan><tspan x="5" dy="4.2">measure : varchar</tspan><tspan x="5" dy="4.2">time_frame : varchar</tspan><tspan x="5" dy="4.2">description : varchar</tspan></text></g>

<g id="ct_results_outcome_measure_class" transform="translate(354,353)"><rect class="b" width="58" height="32.2"/><text class="h" x="29" y="4.2">ct_results_outcome_measure_class</text><line class="s" x1="0" y1="5.6" x2="58" y2="5.6"/><text class="f" y="5.4"><tspan x="5" dy="4.2">id : serial (PK)</tspan><tspan x="5" dy="4.2">ct_pk_id : integer</tspan><tspan x="5" dy="4.2">oc_pk : integer</tspan><tspan x="5" dy="4.2">ocm_pk : integer</tspan><tspan x="5" dy="4.2">ocmc_id : integer</tspan><tspan x="5" dy="4.2">title : varchar</tspan></text></g>

<g id="ct_condition_browse" transform="translate(423,353)"><rect class="b" width="46" height="19.6"/><text class="h" x="23" y="4.2">ct_condition_browse</text><line class="s" x1="0" y1="5.6" x2="46" y2="5.6"/><text class="f" y="5.4"><tspan x="5" dy="4.2">id : serial (PK)</tspan><tspan x="5" dy="4.2">cond_browse_pk_id : integer</tspan><tspan x="5" dy="4.2">mesh_term : varchar</tspan></text></g>

<g id="ct_results_baseline_groups" transform="translate(479,353)"><rect class="b" width="45" height="32.2"/><text class="h" x="22.5" y="4.2">ct_results_baseline_groups</text><line class="s" x1="0" y1="5.6" x2="45" y2="5.6"/><text class="f" y="5.4"><tspan x="5" dy="4.2">id : serial (PK)</tspan><tspan x="5" dy="4.2">ct_pk_id : integer</tspan><tspan x="5" dy="4.2">rbg_id : integer</tspan><tspan x="5" dy="4.2">title : varchar</tspan><tspan x="5" dy="4.2">description : varchar</tspan><tspan x="5" dy="4.2">group_id : varchar</tspan></text></g>

<g id="ct_results_reported_events" transform="translate(534,353)"><rect class="b" width="45" height="28"/><text class="h" x="22.5" y="4.2">ct_results_reported_events</text><line class="s" x1="0" y1="5.6" x2="45" y2="5.6"/><text class="f" y="5.4"><tspan x="5" dy="4.2">id : serial (PK)</tspan><tspan x="5" dy="4.2">ct_pk_id : integer</tspan><tspan x="5" dy="4.2">re_id : integer</tspan><tspan x="5" dy="4.2">time_frame : varchar</tspan><tspan x="5" dy="4.2">description : varchar</tspan></text></g>

<g id="ct_overall_contact_backup" transform="translate(589,353)"><rect class="b" width="53" height="44.8"/><text class="h" x="26.5" y="4.2">ct_overall_contact_backup</text><line class="s" x1="0" y1="5.6" x2="53" y2="5.6"/><text class="f" y="5.4"><tspan x="5" dy="4.2">id : serial (PK)</tspan><tspan x="5" dy="4.2">over_cont_back_pk_id : integer</tspan><tspan x="5" dy="4.2">first_name : varchar</tspan><tspan x="5" dy="4.2">middle_name : varchar</tspan><tspan x="5" dy="4.2">last_name : varchar</tspan><tspan x="5" dy="4.2">degrees : varchar</tspan><tspan x="5" dy="4.2">phone : varchar</tspan><tspan x="5" dy="4.2">phone_ext : varchar</tspan><tspan x="5" dy="4.2">email : varchar</tspan></text></g>

<g id="ct_pending_results_returned" transform="translate(652,353)"><rect class="b" width="58" height="19.6"/><text class="h" x="29" y="4.2">ct_pending_results_returned</text><line class="s" x1="0" y1="5.6" x2="58" y2="5.6"/><text class="f" y="5.4"><tspan x="5" dy="4.2">id : serial (PK)</tspan><tspan x="5" dy="4.2">pend_result_ret_pk_id : integer</tspan><tspan x="5" dy="4.2">returned_date : varchar</tspan></text></g>

<g id="ct_results_events_serious_categories_events_counts" transform="translate(720,353)"><rect class="b" width="84" height="53.2"/><text class="h" x="42" y="4.2">ct_results_events_serious_categories_events_counts</text><line class="s" x1="0" y1="5.6" x2="84" y2="5.6"/><text class="f" y="5.4"><tspan x="5" dy="4.2">id : serial (PK)</tspan><tspan x="5" dy="4.2">ct_pk_id : integer</tspan><tspan x="5" dy="4.2">re_id : integer</tspan><tspan x="5" dy="4.2">res_pk : integer</tspan><tspan x="5" dy="4.2">resc_pk : integer</tspan><tspan x="5" dy="4.2">rescm_pk : integer</tspan><tspan x="5" dy="4.2">rescmc_id : integer</tspan><tspan x="5" dy="4.2">group_id : varchar</tspan><tspan x="5" dy="4.2">subjects_affected : varchar</tspan><tspan x="5" dy="4.2">subjects_at_risk : varchar</tspan><tspan x="5" dy="4.2">events : varchar</tspan></text></g>

<g id="ct_expanded_access" transform="translate(814,353)"><rect class="b" width="48" height="28"/><text class="h" x="24" y="4.2">ct_expanded_access</text><line class="s" x1="0" y1="5.6" x2="48" y2="5.6"/><text class="f" y="5.4"><tspan x="5" dy="4.2">id : serial (PK)</tspan><tspan x="5" dy="4.2">exp_acc_pk_id : integer</tspan><tspan x="5" dy="4.2">type_individual : varchar</tspan><tspan x="5" dy="4.2">type_intermediate : varchar</tspan><tspan x="5" dy="4.2">type_treatment : varchar</tspan></text></g>

<g id="ct_results_outcome_measure_class_analyzed_count" transform="translate(873,353)"><rect class="b" width="81" height="40.6"/><text class="h" x="40.5" y="4.2">ct_results_outcome_measure_class_analyzed_count</text><line class="s" x1="0" y1="5.6" x2="81" y2="5.6"/><text class="f" y="5.4"><tspan x="5" dy="4.2">id : serial (PK)</tspan><tspan x="5" dy="4.2">ct_pk_id : integer</tspan><tspan x="5" dy="4.2">oc_pk : integer</tspan><tspan x="5" dy="4.2">ocm_pk : integer</tspan><tspan x="5" dy="4.2">occ_pk : integer</tspan><tspan x="5" dy="4.2">ocmac_id : integer</tspan><tspan x="5" dy="4.2">group_id : varchar</tspan><tspan x="5" dy="4.2">value : varchar</tspan></text></g>

<g id="ct_results_outcome_groups" transform="translate(964,353)"><rect class="b" width="48" height="36.4"/><text class="h" x="24" y="4.2">ct_results_outcome_groups</text><line class="s" x1="0" y1="5.6" x2="48" y2="5.6"/><text class="f" y="5.4"><tspan x="5" dy="4.2">id : serial (PK)</tspan><tspan x="5" dy="4.2">ct_pk_id : integer</tspan><tspan x="5" dy="4.2">oc_pk : integer</tspan><tspan x="5" dy="4.2">rog_id : integer</tspan><tspan x="5" dy="4.2">group_id : varchar</tspan><tspan x="5" dy="4.2">title : varchar</tspan><tspan x="5" dy="4.2">description : varchar</tspan></text></g>

<g id="ct_results_period_milestones" transform="translate(1024,353)"><rect class="b" width="48" height="28"/><text class="h" x="24" y="4.2">ct_results_period_milestones</text><line class="s" x1="0" y1="5.6" x2="48" y2="5.6"/><text class="f" y="5.4"><tspan x="5" dy="4.2">id : serial (PK)</tspan><tspan x="5" dy="4.2">ct_pk_id : integer</tspan><tspan x="5" dy="4.2">rp_pk : integer</tspan><tspan x="5" dy="4.2">rpm_id : integer</tspan><tspan x="5" dy="4.2">title : varchar</tspan></text></g>

<g id="ct_other_outcome" transform="translate(1082,353)"><rect class="b" width="42" height="28"/><text class="h" x="21" y="4.2">ct_other_outcome</text><line class="s" x1="0" y1="5.6" x2="42" y2="5.6"/><text class="f" y="5.4"><tspan x="5" dy="4.2">id : serial (PK)</tspan><tspan x="5" dy="4.2">oth_out_pk_id : integer</tspan><tspan x="5" dy="4.2">measure : varchar</tspan><tspan x="5" dy="4.2">time_frame : varchar</tspan><tspan x="5" dy="4.2">description : varchar</tspan></text></g>

<g id="ct_results_outcome_measure_analyzed_count" transform="translate(1134,353)"><rect class="b" width="76" height="40.6"/><text class="h" x="38" y="4.2">ct_results_outcome_measure_analyzed_count</text><line class="s" x1="0" y1="5.6" x2="76" y2="5.6"/><text class="f" y="5.4"><tspan x="5" dy="4.2">id : serial (PK)</tspan><tspan x="5" dy="4.2">ct_pk_id : integer</tspan><tspan x="5" dy="4.2">oc_pk : integer</tspan><tspan x="5" dy="4.2">ocm_pk : integer</tspan><tspan x="5" dy="4.2">ocma_pk : integer</tspan><tspan x="5" dy="4.2">ocmac_id : integer</tspan><tspan x="5" dy="4.2">group_id : varchar</tspan><tspan x="5" dy="4.2">value : varchar</tspan></text></g>

<g id="ct_eligibility" transform="translate(1219,353)"><rect class="b" width="42" height="53.2"/><text class="h" x="21" y="4.2">ct_eligibility</text><line class="s" x1="0" y1="5.6" x2="42" y2="5.6"/><text class="f" y="5.4"><tspan x="5" dy="4.2">id : serial (PK)</tspan><tspan x="5" dy="4.2">eligibility_pk_id : integer</tspan><tspan x="5" dy="4.2">study_pop : varchar</tspan><tspan x="5" dy="4.2">sampling_method : varchar</tspan><tspan x="5" dy="4.2">criteria : text</tspan><tspan x="5" dy="4.2">gender : varchar</tspan><tspan x="5" dy="4.2">gender_based : varchar</tspan><tspan x="5" dy="4.2">gender_description : varchar</tspan><tspan x="5" dy="4.2">minimum_age : varchar</tspan><tspan x="5" dy="4.2">maximum_age : varchar</tspan><tspan x="5" dy="4.2">healthy_volunteers : varchar</tspan></text></g>

<g id="ct_location" transform="translate(1279,353)"><rect class="b" width="33" height="19.6"/><text class="h" x="16.5" y="4.2">ct_location</text><line class="s" x1="0" y1="5.6" x2="33" y2="5.6"/><text class="f" y="5.4"><tspan x="5" dy="4.2">id : serial (PK)</tspan><tspan x="5" dy="4.2">loc_id : integer</tspan><tspan x="5" dy="4.2">status : varchar</tspan></text></g>

<g id="ct_results_period_drops_participants" transform="translate(1322,353)"><rect class="b" width="60" height="36.4"/><text class="h" x="30" y="4.2">ct_results_period_drops_participants</text><line class="s" x1="0" y1="5.6" x2="60" y2="5.6"/><text class="f" y="5.4"><tspan x="5" dy="4.2">id : serial (PK)</tspan><tspan x="5" dy="4.2">ct_pk_id : integer</tspan><tspan x="5" dy="4.2">rp_pk : integer</tspan><tspan x="5" dy="4.2">rpdr_pk : integer</tspan><tspan x="5" dy="4.2">rpdrp_id : integer</tspan><tspan x="5" dy="4.2">group_id : varchar</tspan><tspan x="5" dy="4.2">count : varchar</tspan></text></g>
</svg>
